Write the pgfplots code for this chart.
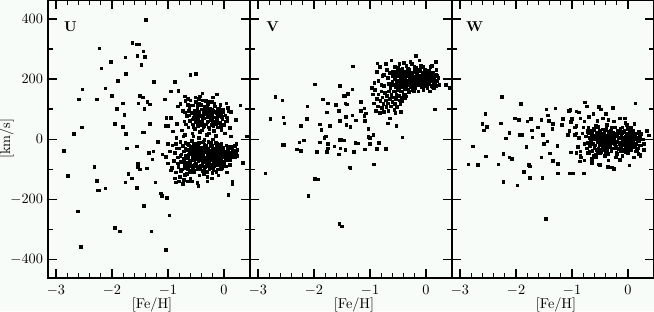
\documentclass[border=0pt]{standalone}
\usepackage{pgfplots}
\pgfplotsset{compat=1.18}
\usetikzlibrary{backgrounds}
\definecolor{bgcol}{RGB}{248,252,248}

\pgfplotsset{
  panel/.style={
    scale only axis, width=141.4pt, height=194.4pt, anchor=south west,
    xmin=-3.143, xmax=0.464, ymin=-461, ymax=463,
    xtick={-3,-2,-1,0}, minor x tick num=4,
    ytick={-400,-200,0,200,400}, minor y tick num=1,
    tick align=inside, tick pos=both,
    major tick length=6pt, minor tick length=3.2pt,
    axis line style={line width=1.2pt},
    every tick/.style={black, line width=0.9pt},
    xlabel={[Fe/H]},
    xlabel style={at={(axis description cs:0.515,-0.097)}, anchor=center},
    xticklabel style={yshift=-1.5pt},
    clip=false,
  },
  pts/.style={only marks, mark=square*, mark size=0.9pt, black, mark options={draw=black, fill=black}},
}

\begin{document}
\begin{tikzpicture}
% ---------------- U ----------------
\begin{axis}[panel, at={(0pt,0pt)},
  ylabel={[km/s]},
  ylabel style={at={(axis description cs:-0.205,0.5)}, anchor=center}]
\addplot[pts] coordinates {
(-1.40,397) (-1.64,320) (-1.56,316) (-1.52,316) (-2.23,303) (-1.44,292) (-1.41,275)
(-1.76,273) (-1.55,278) (-2.02,257) (-2.19,236) (-1.48,247) (-1.75,217) (-0.60,215)
(-0.50,217) (-1.25,191) (-1.90,195) (-0.88,191) (-2.53,166) (-2.12,169) (-2.00,145)
(-2.59,133) (-2.27,133) (-1.50,145) (-1.45,139) (-1.81,119) (-1.53,119) (-1.37,124)
(-1.33,116) (-1.91,101) (-1.42,102) (-1.78,82) (-1.95,52) (-1.33,52) (-2.54,40)
(-1.81,41) (-2.68,18) (-1.75,18) (-1.45,23) (-1.43,23) (-2.86,-39) (-1.74,-31)
(-1.56,-24) (-1.34,-45) (-1.26,-40) (-1.18,-8) (-1.28,-67) (-1.54,-81) (-1.54,-91)
(-1.50,-100) (-1.38,-97) (-2.32,-92) (-2.79,-122) (-1.71,-115) (-1.65,-130) (-1.76,-143)
(-2.27,-139) (-2.26,-170) (-2.24,-170) (-2.12,-164) (-1.56,-161) (-1.23,-144) (-1.13,-180)
(-1.11,-188) (-1.02,-196) (-1.43,-222) (-0.98,-253) (-2.61,-240) (-2.60,-240) (-1.95,-294)
(-1.86,-306) (-1.30,-306) (-2.56,-359) (-1.04,-369) (0.08,-186) (0.15,-141) (0.15,-150)
(0.34,-79) (0.41,9) (0.29,113) (0.12,9)
(-0.95,159) (-0.82,161) (-0.70,142) (-0.65,135) (-0.39,153) (-0.13,150) (-0.43,143)
(-1.06,133) (-0.83,109) (-1.03,72) (-1.04,44) (-1.00,44) (-0.95,72) (-0.84,51)
(-0.91,26) (-0.73,9) (-1.10,-50) (-1.04,-58) (-1.00,-80) (-0.95,-103) (-0.86,-144)
(-0.74,-149) (-0.58,-140) (-0.48,-145) (-0.46,-156) (-0.22,-130) (-0.06,-100) (0.12,91)
(0.05,73) (0.21,64) (0.12,-25) (0.20,-24)
(-0.78,118) (-0.74,95) (-0.71,60) (-0.69,128) (-0.66,78) (-0.64,40) (-0.62,105) (-0.61,62)
(-0.60,130) (-0.58,88) (-0.57,20) (-0.56,50) (-0.55,112) (-0.54,72) (-0.53,95) (-0.52,35)
(-0.51,140) (-0.50,58) (-0.49,82) (-0.48,104) (-0.47,45) (-0.46,68) (-0.45,120) (-0.44,90)
(-0.43,25) (-0.42,55) (-0.41,78) (-0.40,100) (-0.39,62) (-0.38,130) (-0.37,40) (-0.36,85)
(-0.35,70) (-0.34,108) (-0.33,50) (-0.32,92) (-0.31,15) (-0.30,75) (-0.29,118) (-0.28,60)
(-0.27,88) (-0.26,35) (-0.25,102) (-0.24,70) (-0.23,48) (-0.22,125) (-0.21,82) (-0.20,58)
(-0.19,96) (-0.18,28) (-0.17,73) (-0.16,110) (-0.15,52) (-0.14,86) (-0.13,64) (-0.12,40)
(-0.11,98) (-0.10,76) (-0.08,55) (-0.07,115) (-0.06,88) (-0.05,30) (-0.03,68) (-0.02,100)
(0.00,48) (0.02,80) (0.04,120) (0.06,62) (0.08,95) (0.10,38)
(-0.63,95) (-0.57,66) (-0.48,118) (-0.44,76) (-0.40,48) (-0.36,96) (-0.30,58) (-0.26,80)
(-0.21,100) (-0.17,92) (-0.12,70) (-0.08,84) (-0.33,128) (-0.52,82) (-0.68,50) (-0.75,30)
(-0.45,135) (-0.27,20) (-0.15,12) (0.01,20)
(-0.62,80) (-0.58,112) (-0.55,40) (-0.51,70) (-0.47,92) (-0.43,58) (-0.41,115) (-0.38,72)
(-0.35,45) (-0.33,88) (-0.31,105) (-0.28,40) (-0.26,125) (-0.24,88) (-0.22,65) (-0.19,45)
(-0.17,120) (-0.14,60) (-0.11,80) (-0.09,102) (-0.06,42) (-0.04,75) (-0.01,90) (0.03,60)
(-0.50,125) (-0.40,30) (-0.20,140) (-0.65,115) (-0.70,90) (0.07,105)
(-0.92,-20) (-0.90,-72) (-0.88,-45) (-0.86,-110) (-0.85,5) (-0.83,-60) (-0.82,-92) (-0.80,-30)
(-0.79,-125) (-0.78,-8) (-0.77,-75) (-0.76,-50) (-0.75,-100) (-0.74,-22) (-0.73,-65) (-0.72,-40)
(-0.71,-88) (-0.70,-118) (-0.69,-12) (-0.68,-55) (-0.67,-78) (-0.66,-35) (-0.65,-98) (-0.64,-60)
(-0.63,-20) (-0.62,-45) (-0.61,-85) (-0.60,-130) (-0.59,-70) (-0.58,-5) (-0.57,-50) (-0.56,-95)
(-0.55,-30) (-0.54,-68) (-0.53,-110) (-0.52,-42) (-0.51,-15) (-0.50,-80) (-0.49,-58) (-0.48,-100)
(-0.47,-35) (-0.46,-72) (-0.45,-48) (-0.44,-120) (-0.43,-10) (-0.42,-62) (-0.41,-88) (-0.40,-28)
(-0.39,-52) (-0.38,-105) (-0.37,-75) (-0.36,-40) (-0.35,-18) (-0.34,-92) (-0.33,-60) (-0.32,-33)
(-0.31,-80) (-0.30,-125) (-0.29,-50) (-0.28,-8) (-0.27,-68) (-0.26,-98) (-0.25,-38) (-0.24,-58)
(-0.23,-85) (-0.22,-22) (-0.21,-112) (-0.20,-48) (-0.19,-70) (-0.18,-30) (-0.17,-90) (-0.16,-55)
(-0.15,-12) (-0.14,-75) (-0.13,-42) (-0.12,-100) (-0.11,-62) (-0.10,-25) (-0.09,-82) (-0.08,-50)
(-0.07,-35) (-0.06,-70) (-0.05,-15) (-0.04,-95) (-0.03,-45) (-0.02,-60) (-0.01,-28) (0.00,-78)
(0.02,-40) (0.03,-55) (0.04,-20) (0.06,-68) (0.07,-35) (0.09,-50) (0.10,-85) (0.12,-30)
(0.14,-58) (0.16,-40) (0.18,-22) (0.21,-48) (0.24,-35)
(-0.88,-130) (-0.84,-30) (-0.81,-140) (-0.77,-105) (-0.72,-135) (-0.69,-95) (-0.66,-115) (-0.63,-78)
(-0.61,-38) (-0.59,-108) (-0.56,-62) (-0.54,-18) (-0.52,-85) (-0.50,-45) (-0.48,-65) (-0.46,-25)
(-0.44,-90) (-0.42,-40) (-0.40,-70) (-0.38,-55) (-0.36,-115) (-0.34,-30) (-0.32,-72) (-0.30,-45)
(-0.28,-88) (-0.26,-60) (-0.24,-20) (-0.22,-68) (-0.20,-95) (-0.18,-52) (-0.16,-35) (-0.14,-108)
(-0.12,-45) (-0.10,-65) (-0.08,-18) (-0.06,-40) (-0.04,-55) (-0.02,-88) (0.01,-60) (0.05,-45)
(0.08,-25) (0.11,-70) (0.15,-30) (0.19,-60) (0.22,-15)
(-0.93,-95) (-0.97,-40) (-1.00,-15) (-0.65,-140) (-0.30,-140) (-0.10,-120) (0.05,-110)
(-0.55,10) (-0.45,5) (-0.20,0) (-0.70,15) (-0.35,-2)
(-0.69,-32) (-0.67,-62) (-0.65,-15) (-0.63,-50) (-0.61,-72) (-0.60,-25) (-0.58,-88) (-0.57,-40)
(-0.55,-58) (-0.53,-22) (-0.52,-65) (-0.50,-32) (-0.49,-90) (-0.47,-52) (-0.45,-12) (-0.44,-70)
(-0.42,-28) (-0.41,-48) (-0.39,-80) (-0.38,-35) (-0.36,-62) (-0.35,-95) (-0.33,-42) (-0.32,-20)
(-0.30,-68) (-0.29,-30) (-0.27,-52) (-0.26,-78) (-0.24,-40) (-0.23,-12) (-0.21,-62) (-0.20,-30)
(-0.18,-82) (-0.17,-45) (-0.15,-65) (-0.14,-25) (-0.12,-55) (-0.11,-85) (-0.09,-38) (-0.08,-68)
(-0.06,-22) (-0.05,-52) (-0.03,-75) (-0.02,-35) (0.00,-50) (0.02,-65) (0.04,-42) (0.06,-28)
(0.08,-58) (0.10,-45) (0.13,-48) (0.17,-52) (0.20,-38) (0.23,-55) (-0.66,-88) (-0.54,-105)
(-0.43,-100) (-0.31,-108) (-0.19,-102) (-0.07,-88) (-0.72,-75) (-0.78,-55) (-0.83,-80) (-0.86,-15)
(-0.62,-105) (-0.48,-20) (-0.37,-8) (-0.25,-95) (-0.13,-15) (0.03,-90)
};
\node at (axis cs:-2.74,373) {\textbf{U}};
\end{axis}
% ---------------- V ----------------
\begin{axis}[panel, at={(141.4pt,0pt)}, yticklabel=\empty]
\addplot[pts] coordinates {
(-1.31,242) (-0.87,252) (-1.99,182) (-1.54,178) (-2.69,141) (-2.57,130) (-1.84,133)
(-1.75,120) (-2.12,110) (-1.61,114) (-1.77,90) (-1.56,94) (-1.47,144) (-1.45,144)
(-1.40,151) (-1.32,166) (-1.44,119) (-1.41,116) (-2.78,67) (-2.55,73) (-2.53,53)
(-2.13,67) (-2.24,44) (-1.90,50) (-1.87,31) (-1.72,44) (-1.54,62) (-1.43,75) (-1.32,80)
(-1.42,47) (-1.35,41) (-1.25,63) (-1.16,125) (-1.16,95) (-1.10,78) (-1.09,62) (-1.10,103)
(-1.08,86) (-1.03,34) (-1.03,7) (-1.00,4) (-0.94,14) (-0.84,-13) (-1.00,-16) (-0.88,-32)
(-0.72,-32) (-1.09,-33) (-1.79,9) (-1.82,5) (-1.75,-16) (-1.75,-30) (-1.77,-42) (-1.64,-24)
(-1.54,-2) (-1.51,-3) (-1.53,-31) (-1.56,-50) (-1.44,-36) (-1.47,-4) (-1.26,-12) (-1.21,-14)
(-1.29,-42) (-2.18,-4) (-2.26,-11) (-2.31,-33) (-2.24,-39) (-1.95,-42) (-1.90,-11)
(-2.57,-19) (-2.53,-19) (-1.37,-93) (-1.35,-96) (-0.93,-83) (-2.87,-113) (-1.99,-131)
(-1.92,-134) (-2.10,-188) (-1.55,-282) (-1.50,-290) (-0.42,6) (-0.53,45) (-0.68,53)
(-0.65,70) (0.16,100) (0.35,180) (0.42,170) (0.17,258) (-0.18,277)
(-0.60,190) (-0.59,225) (-0.58,160) (-0.57,205) (-0.56,240) (-0.55,175) (-0.54,215) (-0.53,150)
(-0.52,195) (-0.51,230) (-0.50,170) (-0.49,210) (-0.48,250) (-0.47,185) (-0.46,160) (-0.45,220)
(-0.44,198) (-0.43,172) (-0.42,235) (-0.41,205) (-0.40,150) (-0.39,185) (-0.38,225) (-0.37,200)
(-0.36,168) (-0.35,245) (-0.34,212) (-0.33,180) (-0.32,195) (-0.31,158) (-0.30,230) (-0.29,205)
(-0.28,175) (-0.27,215) (-0.26,190) (-0.25,250) (-0.24,165) (-0.23,200) (-0.22,222) (-0.21,185)
(-0.20,208) (-0.19,170) (-0.18,238) (-0.17,195) (-0.16,215) (-0.15,180) (-0.14,160) (-0.13,228)
(-0.12,200) (-0.11,185) (-0.10,212) (-0.09,245) (-0.08,175) (-0.07,198) (-0.06,220) (-0.05,165)
(-0.04,205) (-0.03,188) (-0.02,232) (-0.01,178) (0.00,210) (0.01,195) (0.02,170) (0.03,225)
(0.04,200) (0.05,185) (0.06,215) (0.07,160) (0.08,240) (0.09,192) (0.10,178) (0.11,208)
(0.12,222) (0.13,185) (0.14,170) (0.15,200) (0.17,215) (0.18,178) (0.20,195) (0.22,205)
(0.24,180)
(-0.58,180) (-0.55,200) (-0.52,225) (-0.49,188) (-0.46,205) (-0.43,215) (-0.40,195) (-0.37,180)
(-0.34,190) (-0.31,210) (-0.28,200) (-0.25,185) (-0.22,195) (-0.19,205) (-0.16,190) (-0.13,210)
(-0.10,195) (-0.07,180) (-0.04,220) (-0.01,200) (0.02,190) (0.05,205) (0.08,210) (0.11,192)
(0.14,215) (-0.45,180) (-0.30,180) (-0.15,200) (0.00,185) (-0.35,222) (-0.20,230) (-0.05,240)
(-0.50,238) (-0.40,255) (-0.28,258) (-0.12,262) (0.10,245) (0.18,230)
(-0.62,262) (-0.70,230) (-0.68,205) (-0.66,185) (-0.72,250) (-0.64,170) (-0.75,215)
(-0.55,225) (-0.53,185) (-0.51,210) (-0.49,165) (-0.47,232) (-0.45,198) (-0.43,185) (-0.41,222)
(-0.39,170) (-0.37,212) (-0.35,190) (-0.33,235) (-0.31,180) (-0.29,222) (-0.27,195) (-0.25,212)
(-0.23,178) (-0.21,240) (-0.19,188) (-0.17,225) (-0.15,210) (-0.13,190) (-0.11,232) (-0.09,200)
(-0.07,215) (-0.05,190) (-0.03,208) (-0.01,222) (0.01,212) (0.03,185) (0.05,228) (0.07,195)
(0.09,210) (0.11,175) (0.13,200) (0.16,188) (0.19,210) (-0.42,160) (-0.32,165) (-0.22,160)
(-0.60,210) (-0.62,180) (-0.65,220) (-0.56,160) (-0.48,145) (-0.38,150) (-0.28,185) (-0.18,200)
(-0.08,190) (0.06,198)
(-0.95,150) (-0.93,120) (-0.91,165) (-0.90,95) (-0.88,135) (-0.86,110) (-0.85,150) (-0.83,88)
(-0.82,128) (-0.80,160) (-0.79,105) (-0.78,140) (-0.76,118) (-0.75,92) (-0.74,155) (-0.72,130)
(-0.71,108) (-0.70,145) (-0.68,120) (-0.67,95) (-0.66,160) (-0.65,135) (-0.63,110) (-0.62,148)
(-0.60,125) (-0.58,140) (-0.57,98) (-0.56,118) (-0.54,135) (-0.52,108) (-0.50,145) (-0.48,130)
(-0.46,118) (-0.44,140) (-0.42,128) (-0.38,138) (-0.35,142) (-0.55,88) (-0.45,92) (-0.80,180)
(-0.85,195) (-0.78,210) (-0.92,188) (-0.97,170) (-0.88,225) (-0.83,240) (-0.75,178)
};
\node at (axis cs:-2.74,373) {\textbf{V}};
\end{axis}
% ---------------- W ----------------
\begin{axis}[panel, at={(282.8pt,0pt)}, yticklabel=\empty]
\addplot[pts] coordinates {
(-2.25,141) (-1.91,118) (-2.55,85) (-2.60,51) (-2.58,29) (-2.52,42) (-2.77,-24) (-2.54,-57)
(-2.85,-83) (-2.68,-85) (-2.32,-83) (-2.23,-48) (-2.12,-60) (-2.08,-66) (-2.23,-141) (-1.98,-154)
(-2.27,53) (-2.18,3) (-2.12,22) (-2.02,69) (-1.95,64) (-1.94,15) (-1.89,15) (-1.82,-26)
(-1.80,60) (-1.74,68) (-1.71,6) (-1.72,29) (-1.77,-85) (-1.75,-90) (-1.86,-108) (-1.75,-128)
(-1.53,-128) (-1.55,65) (-1.61,40) (-1.52,15) (-1.50,-16) (-1.46,100) (-1.43,79) (-1.41,62)
(-1.34,51) (-1.30,103) (-1.35,34) (-1.44,-7) (-1.26,-22) (-1.55,-60) (-1.40,-47) (-1.34,-71)
(-1.25,-82) (-1.25,-114) (-1.05,-114) (-0.99,-114) (-0.79,-114) (-1.47,-265) (-1.18,48) (-1.16,68)
(-1.08,14) (-1.06,95) (-1.03,98) (-1.00,68) (-0.92,93) (-0.88,90) (-0.77,122) (-0.74,110)
(-0.52,108) (-0.49,100) (-0.40,84) (-0.27,104) (0.13,119) (-0.06,69) (0.11,51) (0.33,28)
(0.37,13) (0.28,-16) (0.22,-52) (0.02,-87) (-0.25,-98) (-0.29,-94) (-0.36,-91) (-0.52,-83)
(-1.02,-43) (-0.92,-45) (-0.86,-74)
(-1.02,58) (-0.95,40) (-0.92,20) (-1.05,28) (-0.85,70) (-0.78,60) (-0.70,75) (-0.62,85)
(-0.55,62) (-0.45,70) (-0.35,65) (-0.25,60) (-0.15,70) (-0.05,55)
(-0.85,-55) (-0.78,-70) (-0.72,-45) (-0.65,-78) (-0.58,-60) (-0.50,-85)
(-0.75,10) (-0.74,-30) (-0.73,25) (-0.72,-12) (-0.71,40) (-0.70,-45) (-0.69,5) (-0.68,-22)
(-0.67,30) (-0.66,-5) (-0.65,18) (-0.64,-38) (-0.63,8) (-0.62,-15) (-0.61,35) (-0.60,-28)
(-0.59,12) (-0.58,-50) (-0.57,0) (-0.56,22) (-0.55,-10) (-0.54,42) (-0.53,-32) (-0.52,15)
(-0.51,-20) (-0.50,28) (-0.49,-3) (-0.48,-42) (-0.47,10) (-0.46,-25) (-0.45,33) (-0.44,-8)
(-0.43,20) (-0.42,-35) (-0.41,5) (-0.40,-15) (-0.39,38) (-0.38,-28) (-0.37,12) (-0.36,-48)
(-0.35,25) (-0.34,-5) (-0.33,-20) (-0.32,8) (-0.31,30) (-0.30,-38) (-0.29,15) (-0.28,-12)
(-0.27,22) (-0.26,-30) (-0.25,0) (-0.24,40) (-0.23,-22) (-0.22,10) (-0.21,-45) (-0.20,18)
(-0.19,-8) (-0.18,28) (-0.17,-32) (-0.16,5) (-0.15,-15) (-0.14,35) (-0.13,-25) (-0.12,12)
(-0.11,-40) (-0.10,22) (-0.09,-5) (-0.08,-18) (-0.07,30) (-0.06,-35) (-0.05,8) (-0.04,-12)
(-0.03,20) (-0.02,-28) (-0.01,2) (0.00,-45) (0.01,15) (0.02,-8) (0.03,25) (0.04,-22)
(0.05,5) (0.06,-35) (0.07,18) (0.08,-10) (0.09,30) (0.10,-25) (0.11,0) (0.12,12)
(0.13,-40) (0.14,20) (0.15,-15) (0.16,5) (0.18,-30) (0.19,25) (0.20,-5) (0.22,10)
(0.24,-20) (0.26,0) (0.28,-35)
(-0.72,28) (-0.68,-40) (-0.64,15) (-0.60,2) (-0.56,-35) (-0.52,-5) (-0.48,20) (-0.44,-30)
(-0.40,10) (-0.36,-10) (-0.32,-25) (-0.28,5) (-0.24,-15) (-0.20,-30) (-0.16,25) (-0.12,-12)
(-0.08,5) (-0.04,-42) (0.00,20) (0.04,-10) (0.08,12) (0.12,-25) (0.16,-38) (0.20,15)
(-0.50,-45) (-0.30,40) (-0.10,-55) (0.05,38) (-0.62,-55) (-0.42,-55) (-0.22,-60) (-0.02,48)
(0.18,-48) (-0.58,45) (-0.38,48) (-0.78,-15) (-0.82,20) (-0.85,-40) (-0.88,5) (-0.80,40)
(-0.90,-25) (-0.95,15) (-0.92,45) (-0.84,-60) (-0.65,-65) (-0.35,-70) (-0.15,-68) (0.10,-60)
(0.22,-55)
(-0.59,-20) (-0.57,15) (-0.55,-40) (-0.53,5) (-0.51,25) (-0.49,-15) (-0.47,-35) (-0.45,8)
(-0.43,-20) (-0.41,30) (-0.39,-5) (-0.37,-38) (-0.35,2) (-0.33,18) (-0.31,-12) (-0.29,-30)
(-0.27,0) (-0.25,20) (-0.23,-8) (-0.21,-25) (-0.19,12) (-0.17,-10) (-0.15,22) (-0.13,-38)
(-0.11,5) (-0.09,25) (-0.07,-15) (-0.05,-28) (-0.03,0) (-0.01,-18) (0.01,-32) (0.03,8)
(0.05,-18) (0.07,0) (0.09,-12) (0.11,20) (0.13,5) (0.15,-30) (0.17,-5) (0.19,0)
(0.21,-20) (0.24,18) (-0.62,30) (-0.66,-15) (-0.70,20) (-0.40,-45) (-0.20,-48) (0.00,35)
(-0.30,30) (-0.10,40)
};
\node at (axis cs:-2.74,373) {\textbf{W}};
\end{axis}
\begin{pgfonlayer}{background}
\fill[bgcol] (-33.6pt,-23.3pt) rectangle (424.2pt,194.4pt);
\end{pgfonlayer}
\pgfresetboundingbox
\path[use as bounding box] (-33.6pt,-23.3pt) rectangle (424.2pt,194.4pt);
\end{tikzpicture}
\end{document}
